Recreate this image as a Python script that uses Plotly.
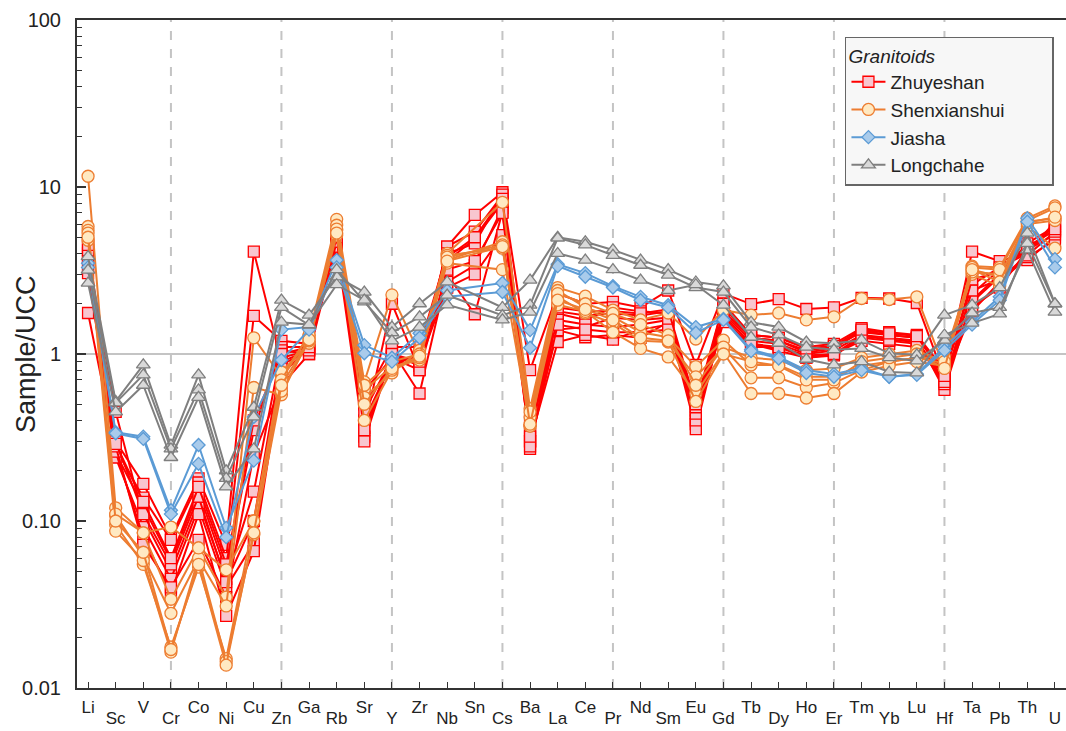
import plotly.graph_objects as go

elements = ["Li", "Sc", "V", "Cr", "Co", "Ni", "Cu", "Zn", "Ga", "Rb", "Sr", "Y", "Zr", "Nb", "Sn", "Cs",
            "Ba", "La", "Ce", "Pr", "Nd", "Sm", "Eu", "Gd", "Tb", "Dy", "Ho", "Er", "Tm", "Yb", "Lu", "Hf",
            "Ta", "Pb", "Th", "U"]

N = None
zhuyeshan = [
    [4.2, 0.30, 0.167, 0.080, 0.18, 0.072, 4.1, 0.90, 1.05, 4.8, 0.36, 2.0, 0.80, 4.4, 6.8, 9.3, 0.80, 2.3, 2.0, 2.05, 1.9, 2.4, 0.86, 2.3, 1.99, 2.13, 1.86, 1.9, 2.17, 2.15, 2.02, 0.72, 4.1, 3.6, 4.0, 6.0],
    [1.76, 0.27, 0.138, 0.077, 0.17, 0.060, 1.69, 1.2, 1.15, 5.0, 0.32, 1.05, 0.58, 3.0, 1.73, 7.1, 0.33, 1.8, 1.7, 1.75, 1.7, 1.8, 0.46, 2.0, 1.3, 1.25, 1.1, 1.15, 1.43, 1.35, 1.3, 0.80, 2.3, 3.2, 4.4, 5.5],
    [4.4, 0.255, 0.122, 0.058, 0.15, 0.050, 0.35, 1.1, 1.1, 4.4, 0.30, 1.0, 0.85, 4.4, 5.4, 8.9, 0.27, 1.75, 1.6, 1.9, 1.8, 1.75, 0.42, 1.9, 1.25, 1.2, 1.05, 1.1, 1.35, 1.3, 1.25, 0.61, 2.05, 2.9, 3.65, 5.0],
    [3.8, 0.45, 0.104, 0.050, 0.13, 0.045, 0.15, 1.05, 1.0, 4.6, 0.40, 0.9, 0.95, 3.6, 4.9, 8.1, 0.30, 1.4, 1.45, 1.65, 1.6, 1.65, 0.38, 1.75, 1.2, 1.15, 1.0, 1.05, 1.3, 1.25, 1.2, 0.70, 1.8, 2.7, 3.8, 4.8],
    [3.3, 0.24, 0.092, 0.045, 0.12, 0.040, 0.074, 0.86, 1.05, 4.9, 0.50, 0.85, 1.0, 2.7, 3.4, 7.5, 0.35, 1.39, 1.26, 1.3, 1.25, 1.55, 0.355, 1.65, 1.1, 1.1, 0.98, 1.0, 1.2, 1.15, 1.1, 0.75, 1.9, 2.5, 4.2, 5.2],
    [3.05, 0.26, 0.080, 0.037, 0.11, 0.027, 0.066, 0.75, 1.1, 4.4, 0.45, 0.95, 0.90, 2.5, 3.0, 5.15, 0.30, 1.18, 1.3, 1.22, 1.4, 1.5, 0.40, 1.55, 1.15, 1.05, 0.95, 0.98, 1.25, 1.2, 1.15, 0.66, 2.1, 3.0, 4.6, 5.8],
    [4.0, 0.28, 0.072, 0.040, 0.077, 0.035, 0.25, 0.65, 1.0, 5.2, 0.55, 1.1, 1.1, 4.0, 4.6, 9.0, 0.40, 1.6, 1.5, 1.45, 1.5, 1.6, 0.44, 1.8, 1.25, 1.2, 1.02, 1.08, 1.38, 1.3, 1.25, 0.78, 2.6, 3.3, 4.0, 6.2],
    [3.6, 0.30, 0.110, 0.055, 0.14, 0.043, 0.10, 0.95, 1.05, 4.7, 0.60, 0.95, 0.80, 3.2, 3.6, 7.0, 0.28, 1.5, 1.4, 1.35, 1.35, 1.4, 0.48, 1.7, 1.15, 1.1, 0.95, 1.0, 1.28, 1.22, 1.18, 0.68, 2.4, 2.8, 3.9, 5.4],
    [4.5, 0.29, 0.130, 0.060, 0.16, 0.055, 0.40, 1.0, 1.1, 5.0, 0.35, 1.0, 0.90, 3.8, 5.0, 8.5, 0.32, 1.9, 1.8, 1.8, 1.75, 1.85, 0.50, 2.0, 1.3, 1.25, 1.08, 1.12, 1.4, 1.33, 1.28, 0.74, 2.8, 3.1, 4.3, 5.6],
]
shenxianshui = [
    [11.6, 0.12, 0.085, 0.034, 0.069, 0.035, 1.25, 0.73, 1.3, 6.4, 0.68, 2.26, 1.0, 4.0, N, 8.1, 0.47, 2.5, 2.22, 1.83, 1.6, 1.76, 1.23, 1.83, 1.71, 1.76, 1.6, 1.67, 2.15, 2.12, 2.2, 0.82, 3.36, 3.3, 6.5, 7.7],
    [5.8, 0.108, 0.061, 0.028, 0.059, 0.031, 0.63, 0.57, 1.25, 5.9, 0.61, 0.84, 0.92, 3.65, N, 4.7, 0.37, 2.4, 1.9, 1.67, 1.35, 1.26, 0.84, 1.21, 0.86, 0.86, 0.73, 0.73, 0.85, 0.9, 0.95, 0.96, 3.2, 2.9, 6.2, 6.5],
    [5.5, 0.095, 0.055, 0.0176, 0.053, 0.015, 0.10, 0.78, 1.16, 5.5, 0.55, 0.77, 1.05, 3.9, N, 4.3, 0.42, 2.2, 1.76, 1.53, 1.2, 1.18, 0.73, 1.09, 0.72, 0.72, 0.63, 0.67, 0.8, 0.9, 0.95, 0.88, 3.0, 2.55, 6.0, 6.3],
    [4.8, 0.087, 0.058, 0.0164, 0.060, 0.0144, 0.083, 0.60, 1.2, 5.15, 0.40, 0.80, 0.95, 3.5, N, 3.2, 0.37, 1.97, 1.8, 1.35, 1.08, 0.96, 0.58, 1.02, 0.58, 0.58, 0.545, 0.58, 0.78, 0.85, 0.9, 0.85, 3.1, 3.0, 5.8, 4.3],
    [5.3, 0.11, 0.085, 0.092, 0.069, 0.051, 0.10, 0.70, 1.3, 5.6, 0.65, 0.90, 1.0, 3.8, N, 4.5, 0.45, 2.3, 2.0, 1.75, 1.5, 1.3, 0.65, 1.1, 0.95, 0.92, 0.80, 0.82, 0.95, 1.0, 1.05, 0.90, 3.3, 3.2, 6.3, 7.5],
    [5.0, 0.10, 0.065, 0.017, 0.055, 0.0137, 0.085, 0.65, 1.22, 5.3, 0.50, 0.82, 0.97, 3.6, N, 4.4, 0.38, 2.1, 1.85, 1.6, 1.25, 1.2, 0.52, 1.0, 0.90, 0.85, 0.70, 0.70, 0.9, 0.95, 1.0, 0.82, 3.2, 2.7, 6.1, 6.6],
]
jiasha = [
    [3.5, 0.34, 0.32, 0.116, 0.285, 0.091, 0.23, 1.4, 1.45, 3.65, 1.13, 0.95, 1.33, 2.4, N, 2.66, 1.39, 3.45, 3.05, 2.55, 2.2, 1.96, 1.45, 1.62, 1.06, 0.96, 0.80, 0.76, 0.82, 0.73, 0.76, 1.1, 1.55, 2.2, 6.5, 3.7],
    [3.3, 0.335, 0.31, 0.110, 0.22, 0.080, 0.42, 0.92, 1.4, 3.3, 1.01, 0.90, 1.25, 2.2, N, 2.35, 1.09, 3.36, 2.9, 2.5, 2.1, 1.9, 1.34, 1.6, 1.04, 0.94, 0.77, 0.73, 0.80, 0.73, 0.75, 1.05, 1.5, 2.1, 6.2, 3.3],
]
longchahe = [
    [3.83, 0.52, 0.86, 0.285, 0.75, 0.20, 0.48, 2.1, 1.71, 2.9, 2.35, 1.45, 2.0, 2.7, N, 1.9, 2.77, 5.0, 4.7, 4.2, 3.65, 3.2, 2.7, 2.56, 1.55, 1.45, 1.18, 1.16, 1.21, 1.01, 0.99, 1.71, 1.96, 2.5, 5.3, 2.0],
    [3.18, 0.51, 0.75, 0.27, 0.61, 0.18, 0.42, 1.9, 1.49, 3.2, 2.05, 1.34, 1.67, 2.25, N, 1.7, 1.96, 4.95, 4.5, 3.9, 3.4, 2.97, 2.5, 2.35, 1.45, 1.3, 1.10, 1.06, 1.08, 0.95, 0.91, 1.21, 1.76, 1.9, 4.2, 1.78],
    [2.66, 0.45, 0.65, 0.24, 0.55, 0.16, 0.27, 1.55, 1.5, 2.6, 2.1, 1.2, 1.45, 1.97, N, 1.6, 1.78, 4.0, 3.65, 3.2, 2.77, 2.4, 2.6, 1.96, 1.26, 1.16, 0.93, 0.86, 0.90, 0.78, 0.77, 1.3, 1.53, 1.74, 4.6, 2.0],
]

groups = [
    ("Zhuyeshan", zhuyeshan, "#FF0000", "square", "#F8C6CF", 11),
    ("Shenxianshui", shenxianshui, "#ED7D31", "circle", "#FFE9C2", 12),
    ("Jiasha", jiasha, "#5B9BD5", "diamond", "#A9CBEB", 10),
    ("Longchahe", longchahe, "#7F7F7F", "triangle-up", "#D9D9D9", 12),
]

xidx = list(range(len(elements)))
even_idx = xidx[0::2]
odd_idx = xidx[1::2]
sep_idx = [3, 7, 11, 15, 19, 23, 27, 31]

fig = go.Figure()
n_groups = len(groups)
for gi, (name, samples, lc, sym, fc, ms) in enumerate(groups):
    for k, vals in enumerate(samples):
        label = name + ("\u00a0" * 8 if name == "Shenxianshui" else "")
        last = (gi == n_groups - 1 and k == len(samples) - 1)
        fig.add_trace(go.Scatter(
            x=xidx, y=vals, mode="lines+markers", name=label, legendgroup=name,
            showlegend=(k == 0), connectgaps=True,
            xaxis="x2" if last else "x",
            line=dict(color=lc, width=2),
            marker=dict(symbol=sym, size=ms, color=fc, line=dict(color=lc, width=1.3)),
        ))

shapes = []
for s in sep_idx:
    shapes.append(dict(type="line", xref="x", yref="paper", x0=s, x1=s, y0=0, y1=1,
                       line=dict(color="#C4C4C4", width=2, dash="dash"), layer="below"))
shapes.append(dict(type="line", xref="paper", yref="y", x0=0, x1=1, y0=1, y1=1,
                   line=dict(color="#C4C4C4", width=2), layer="below"))

minor_vals = [m * 10 ** e for e in range(-2, 2) for m in range(2, 10)]
axis_col = "#333333"

fig.update_layout(
    width=1066, height=731,
    margin=dict(l=77, r=0, t=20, b=43, autoexpand=False),
    paper_bgcolor="white", plot_bgcolor="white",
    font=dict(family="Liberation Sans, Arial, sans-serif", size=18, color="#222222"),
    shapes=shapes,
    annotations=[dict(text="Sample/UCC", xref="paper", yref="paper", x=-0.0516, y=0.5,
                      xanchor="center", yanchor="middle", textangle=-90, showarrow=False,
                      font=dict(size=27, color="#222222"))],
    xaxis=dict(range=[-0.4, 35.4], tickmode="array", tickvals=even_idx,
               ticktext=[elements[i] for i in even_idx],
               ticks="inside", ticklen=6, tickwidth=1.3, tickcolor=axis_col,
               showline=True, linecolor=axis_col, linewidth=2, mirror=True,
               showgrid=False, zeroline=False, tickfont=dict(size=17), automargin=False,
               ticklabelstandoff=3),
    xaxis2=dict(overlaying="x", matches="x", anchor="y", side="bottom",
                tickmode="array", tickvals=odd_idx, ticktext=[elements[i] for i in odd_idx],
                ticks="inside", ticklen=6, tickwidth=1.3, tickcolor=axis_col,
                showline=False, showgrid=False, zeroline=False,
                tickfont=dict(size=17), automargin=False, ticklabelstandoff=18),
    yaxis=dict(type="log", range=[-2, 2], tickmode="array",
               tickvals=[0.01, 0.1, 1, 10, 100], ticktext=["0.01", "0.10", "1", "10", "100"],
               ticks="inside", ticklen=9, tickwidth=1.5, tickcolor=axis_col,
               minor=dict(tickmode="array", tickvals=minor_vals, ticks="inside", ticklen=5,
                          tickwidth=1.3, tickcolor=axis_col, showgrid=False),
               showline=True, linecolor=axis_col, linewidth=2, mirror=False,
               showgrid=False, zeroline=False, tickfont=dict(size=20), automargin=False,
               ticklabelstandoff=10),
    legend=dict(x=0.7765, y=0.975, xanchor="left", yanchor="top",
                bgcolor="#F7F7F7", bordercolor="#666666", borderwidth=1.5,
                title=dict(text="<i>Granitoids</i>", font=dict(size=19)),
                font=dict(size=19), tracegroupgap=0, itemwidth=34),
)

fig.write_html("out.html")
